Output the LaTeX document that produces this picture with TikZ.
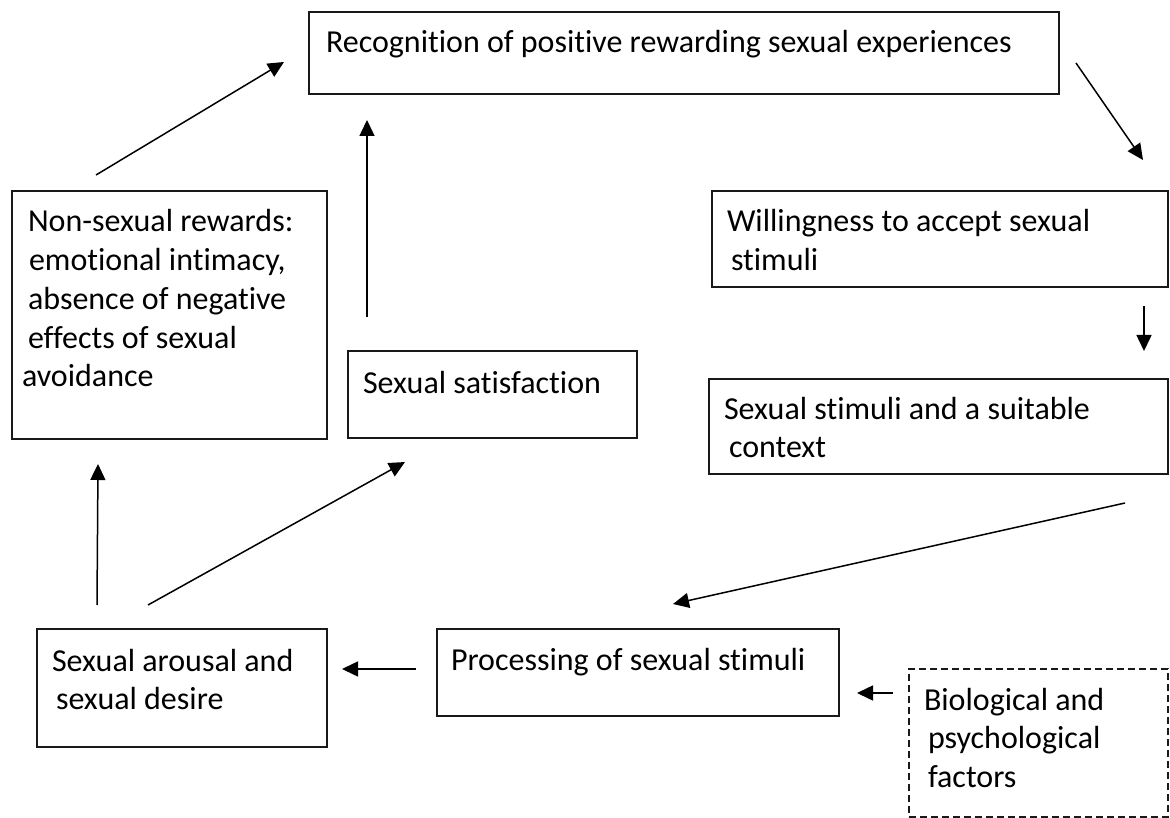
\documentclass[tikz,border=0pt]{standalone}
\usepackage{fontspec}
\setmainfont{Carlito}[RawFeature={-liga;-clig;-dlig;-calt}]
\usetikzlibrary{arrows.meta}
\begin{document}
\begin{tikzpicture}[x=1pt,y=-1pt,
  box/.style={draw=black!90, line width=1.6pt, rectangle, inner sep=0pt, outer sep=0pt, anchor=north west},
  dbox/.style={box, dash pattern=on 7pt off 4pt, line width=1.4pt},
  lbl/.style={anchor=base west, inner sep=0pt, outer sep=0pt, font=\fontsize{32}{38.7}\selectfont},
  arr/.style={line width=1.5pt, -{Triangle[length=16pt,width=15pt]}}
]
\useasboundingbox (0,0) rectangle (1170,818);
\fill[white] (0,0) rectangle (1170,818);

% boxes
\node[box, minimum width=750pt, minimum height=82pt] (rec) at (309,12) {};
\node[box, minimum width=456pt, minimum height=96pt] (will) at (712,191) {};
\node[box, minimum width=459pt, minimum height=95pt] (stim) at (709,379) {};
\node[box, minimum width=402pt, minimum height=87pt] (proc) at (437,629) {};
\node[dbox, minimum width=259pt, minimum height=148pt] (bio) at (909,669) {};
\node[box, minimum width=290pt, minimum height=118pt] (arou) at (37,629) {};
\node[box, minimum width=315pt, minimum height=248pt] (nons) at (12,191) {};
\node[box, minimum width=289pt, minimum height=87pt] (sat) at (348,351) {};

% labels
\node[lbl] (recT) at (326,53) {Recognition of positive rewarding sexual experiences};
\node[lbl] (willT) at (727,232) {\begin{tabular}[t]{@{}l@{}}Willingness to accept sexual\\\hspace*{4pt}stimuli\end{tabular}};
\node[lbl] (stimT) at (724,419) {\begin{tabular}[t]{@{}l@{}}Sexual stimuli and a suitable\\\hspace*{5pt}context\end{tabular}};
\node[lbl] (procT) at (451,670) {Processing of sexual stimuli};
\node[lbl] (bioT) at (924,710) {\begin{tabular}[t]{@{}l@{}}Biological and\\\hspace*{4pt}psychological\\\hspace*{4pt}factors\end{tabular}};
\node[lbl] (arouT) at (52,671) {\begin{tabular}[t]{@{}l@{}}Sexual arousal and\\\hspace*{4pt}sexual desire\end{tabular}};
\node[lbl] (nonsT) at (28,232) {\begin{tabular}[t]{@{}l@{}}Non-sexual rewards:\\\hspace*{1pt}emotional intimacy,\\absence of negative\\effects of sexual\\\hspace*{-6pt}avoidance\end{tabular}};
\node[lbl] (satT) at (363,393) {Sexual satisfaction};

% connector end points
\coordinate (a1s) at (1076,63);  \coordinate (a1e) at (1143,160);
\coordinate (a2s) at (1144,306); \coordinate (a2e) at (1144,351);
\coordinate (a3s) at (1125,503); \coordinate (a3e) at (673,604);
\coordinate (a4s) at (893,693);  \coordinate (a4e) at (857,693);
\coordinate (a5s) at (416,669);  \coordinate (a5e) at (342,669);
\coordinate (a6s) at (97,605);   \coordinate (a6e) at (98,464);
\coordinate (a7s) at (148,605);  \coordinate (a7e) at (405,462);
\coordinate (a8s) at (367,317);  \coordinate (a8e) at (367,120);
\coordinate (a9s) at (96,175);   \coordinate (a9e) at (284,62);

% connectors
\draw[arr] (a1s) -- (a1e);
\draw[arr] (a2s) -- (a2e);
\draw[arr] (a3s) -- (a3e);
\draw[arr] (a4s) -- (a4e);
\draw[arr] (a5s) -- (a5e);
\draw[arr] (a6s) -- (a6e);
\draw[arr] (a7s) -- (a7e);
\draw[arr] (a8s) -- (a8e);
\draw[arr] (a9s) -- (a9e);
\end{tikzpicture}
\end{document}
